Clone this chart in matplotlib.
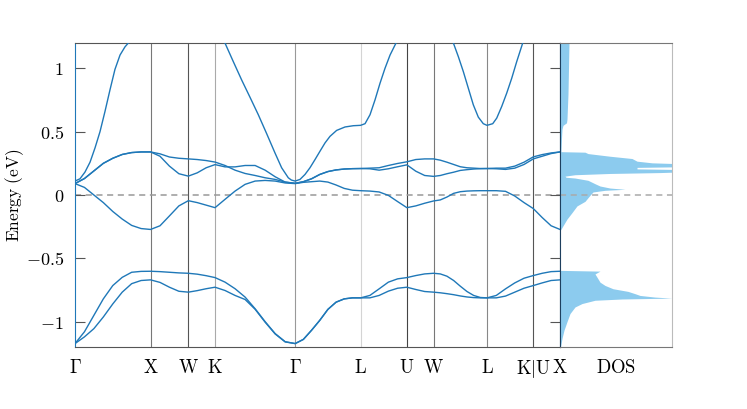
import matplotlib.pyplot as plt
import numpy as np

plt.rcParams['mathtext.fontset'] = 'cm'

# high-symmetry path (fcc), segment lengths in units of 2*pi/a
labels = [r'$\Gamma$', r'$\mathrm{X}$', r'$\mathrm{W}$', r'$\mathrm{K}$', r'$\Gamma$', r'$\mathrm{L}$',
          r'$\mathrm{U}$', r'$\mathrm{W}$', r'$\mathrm{L}$', r'$\mathrm{K}|\mathrm{U}$', r'$\mathrm{X}$']
seg_len = [1.0, 0.5, 0.3536, 1.0607, 0.8660, 0.6124, 0.3536, 0.7071, 0.6124, 0.3536]
seg_steps = [8, 4, 3, 8, 8, 5, 3, 8, 5, 3]
node_colors = ['#777777', '#555555', '#aaaaaa', '#999999', '#d4d4d4', '#444444', '#777777', '#888888', '#555555']

# band energies (eV) read along the path (common k grid)
band1 = [-1.173, -1.12, -1.055, -0.963, -0.86, -0.767, -0.70, -0.675, -0.67,
         -0.69, -0.728, -0.76, -0.767,
         -0.755, -0.74, -0.728,
         -0.754, -0.793, -0.825, -0.902, -1.004, -1.097, -1.16, -1.173,
         -1.14, -1.068, -0.99, -0.903, -0.846, -0.82, -0.812, -0.812,
         -0.812, -0.793, -0.759, -0.736, -0.728,
         -0.746, -0.762, -0.767,
         -0.772, -0.779, -0.787, -0.797, -0.805, -0.810, -0.812, -0.812,
         -0.812, -0.798, -0.767, -0.736, -0.715,
         -0.694, -0.675, -0.67]
band2 = [-1.173, -1.08, -0.95, -0.82, -0.715, -0.65, -0.61, -0.603, -0.602,
         -0.605, -0.61, -0.615, -0.618,
         -0.625, -0.637, -0.652,
         -0.688, -0.74, -0.806, -0.898, -1.0, -1.094, -1.158, -1.173,
         -1.14, -1.068, -0.99, -0.903, -0.846, -0.82, -0.812, -0.812,
         -0.793, -0.741, -0.688, -0.662, -0.652,
         -0.636, -0.623, -0.618,
         -0.623, -0.641, -0.675, -0.72, -0.762, -0.793, -0.809, -0.812,
         -0.793, -0.741, -0.694, -0.657, -0.636,
         -0.618, -0.605, -0.602]
band3 = [0.09, 0.06, 0.0, -0.06, -0.13, -0.19, -0.24, -0.265, -0.272,
         -0.243, -0.165, -0.086, -0.045,
         -0.06, -0.08, -0.1,
         -0.034, 0.031, 0.084, 0.11, 0.115, 0.11, 0.095, 0.09,
         0.1, 0.105, 0.11, 0.102, 0.079, 0.052, 0.038, 0.034,
         0.031, 0.024, -0.003, -0.052, -0.1,
         -0.086, -0.065, -0.047,
         -0.039, -0.016, 0.013, 0.026, 0.031, 0.033, 0.034, 0.034,
         0.034, 0.029, -0.008, -0.06, -0.107,
         -0.178, -0.243, -0.272]
band4 = [0.09, 0.13, 0.19, 0.25, 0.29, 0.32, 0.335, 0.34, 0.34,
         0.306, 0.228, 0.168, 0.149,
         0.175, 0.215, 0.24,
         0.222, 0.222, 0.233, 0.233, 0.196, 0.144, 0.102, 0.092,
         0.105, 0.128, 0.162, 0.185, 0.198, 0.205, 0.208, 0.209,
         0.207, 0.196, 0.207, 0.223, 0.238,
         0.188, 0.154, 0.147,
         0.154, 0.168, 0.18, 0.194, 0.2, 0.205, 0.208, 0.209,
         0.207, 0.202, 0.212, 0.241, 0.285,
         0.306, 0.327, 0.34]
band5 = [0.09, 0.13, 0.19, 0.25, 0.29, 0.32, 0.335, 0.34, 0.34,
         0.325, 0.30, 0.29, 0.285,
         0.28, 0.272, 0.26,
         0.233, 0.196, 0.17, 0.154, 0.136, 0.123, 0.102, 0.092,
         0.105, 0.128, 0.162, 0.185, 0.198, 0.205, 0.208, 0.209,
         0.212, 0.215, 0.233, 0.249, 0.262,
         0.28, 0.285, 0.285,
         0.275, 0.259, 0.241, 0.223, 0.215, 0.212, 0.209, 0.209,
         0.212, 0.212, 0.228, 0.259, 0.301,
         0.319, 0.332, 0.34]
bands = [band1, band2, band3, band4, band5]

# steep conduction band, read more densely (path coordinate, energy)
band6_k = [0.0, 0.066, 0.132, 0.199, 0.265, 0.331, 0.397, 0.463, 0.529, 0.596, 0.662, 0.728, 0.85, 1.0,
           1.5, 1.8536, 1.985, 2.096, 2.206, 2.316, 2.426, 2.537, 2.647, 2.735, 2.823, 2.864, 2.9142,
           2.978, 3.044, 3.11, 3.177, 3.243, 3.309, 3.375, 3.463, 3.574, 3.684, 3.7802,
           3.839, 3.905, 3.971, 4.037, 4.103, 4.17, 4.249, 4.3926, 4.7462,
           5.008, 5.074, 5.14, 5.206, 5.272, 5.338, 5.404, 5.4533,
           5.529, 5.582, 5.648, 5.714, 5.78, 5.846, 5.926, 6.0657, 6.4193]
band6_e = [0.11, 0.128, 0.181, 0.259, 0.372, 0.5, 0.66, 0.83, 0.992, 1.105, 1.17, 1.215, 1.3, 1.38,
           1.36, 1.37, 1.2, 1.052, 0.908, 0.772, 0.634, 0.484, 0.332, 0.215, 0.136, 0.118, 0.11,
           0.123, 0.162, 0.215, 0.28, 0.346, 0.411, 0.463, 0.51, 0.537, 0.547, 0.55,
           0.563, 0.634, 0.751, 0.882, 1.0, 1.105, 1.2, 1.4, 1.5,
           1.2, 1.092, 0.974, 0.843, 0.712, 0.615, 0.563, 0.55,
           0.563, 0.607, 0.699, 0.804, 0.921, 1.052, 1.2, 1.4, 1.42]

# density of states (arb. units) vs energy
dos_energy = [1.2, 1.0, 0.8, 0.6, 0.57, 0.55, 0.52, 0.45, 0.35, 0.342, 0.338, 0.327, 0.306, 0.288,
              0.267, 0.254, 0.249, 0.222, 0.218, 0.206, 0.202, 0.18, 0.177, 0.170, 0.160, 0.149,
              0.14, 0.134, 0.116, 0.089, 0.071, 0.055, 0.045, 0.037, 0.024, -0.002, -0.05, -0.086,
              -0.139, -0.19, -0.243, -0.27, -0.28, -0.595, -0.601, -0.623, -0.649, -0.688, -0.714,
              -0.74, -0.761, -0.779, -0.793, -0.806, -0.814, -0.821, -0.831, -0.857, -0.884, -0.936,
              -1.0, -1.067, -1.132, -1.2]
dos_value = [9, 8.5, 8, 7, 6.5, 3, 2, 1.5, 1, 1, 25, 28, 50, 72,
             77, 92, 112, 112, 77, 77, 112, 112, 100, 50, 15, 5,
             6, 15, 28, 35, 40, 50, 65, 45, 33, 30, 25, 17,
             12, 7, 3, 1, 0, 0, 40, 35, 37, 40, 45,
             53, 68, 75, 80, 95, 112, 62, 35, 22, 15, 10,
             7, 4, 2, 0.5]

nodes = np.concatenate([[0], np.cumsum(seg_len)])
k = [0.0]
for i in range(len(seg_len)):
    k += list(np.linspace(nodes[i], nodes[i + 1], seg_steps[i] + 1)[1:])
k = np.array(k)

band_color = '#1f78b8'
fs = 13
fig = plt.figure(figsize=(7.47, 4.09), dpi=100)
ax = fig.add_axes([75 / 747, 62 / 409, 485 / 747, 304 / 409])
ax_dos = fig.add_axes([560 / 747, 62 / 409, 112 / 747, 304 / 409])

for i in range(1, len(nodes) - 1):
    ax.axvline(nodes[i], color=node_colors[i - 1], linewidth=0.8, zorder=1)
ax.axhline(0, color='#999999', linestyle=(0, (4, 3)), linewidth=1.1, zorder=1)
for b in bands:
    ax.plot(k, b, color=band_color, linewidth=1.0, zorder=3)
ax.plot(band6_k, band6_e, color=band_color, linewidth=1.0, zorder=3)

ax.set_xlim(nodes[0], nodes[-1])
ax.set_ylim(-1.2, 1.2)
ax.set_xticks(nodes)
ax.set_xticklabels(labels, fontsize=13.5)
ax.set_yticks([-1, -0.5, 0, 0.5, 1])
ax.set_yticklabels(['$-1$', '$-0.5$', '$0$', '$0.5$', '$1$'], fontsize=fs)
ax.tick_params(axis='x', length=0, pad=8)
ax.tick_params(axis='y', direction='in', left=True, right=True, length=7, width=0.8,
               color='#555555', pad=8)
ax.set_ylabel(r'$\mathrm{Energy\ (eV)}$', fontsize=12.5)
ax.yaxis.set_label_coords(-0.1, 0.5)
ax.spines['left'].set_color(band_color)
ax.spines['right'].set_color('#1d3f5e')
ax.spines['top'].set_color('#555555')
ax.spines['bottom'].set_color('#555555')

ax_dos.fill_betweenx(dos_energy, 0, dos_value, color='#8ccbee', linewidth=0)
ax_dos.axhline(0, color='#aaaaaa', linestyle=(0, (4, 3)), linewidth=1.1)
ax_dos.set_xlim(0, 112)
ax_dos.set_ylim(-1.2, 1.2)
ax_dos.set_yticks([])
ax_dos.set_xticks([56])
ax_dos.set_xticklabels([r'$\mathrm{DOS}$'], fontsize=13.5)
ax_dos.tick_params(axis='x', length=0, pad=8)
ax_dos.spines['left'].set_color('#1d3f5e')
ax_dos.spines['top'].set_color('#777777')
ax_dos.spines['bottom'].set_color('#777777')
ax_dos.spines['right'].set_color('#bbbbbb')

fig.savefig('out.png', dpi=100)
